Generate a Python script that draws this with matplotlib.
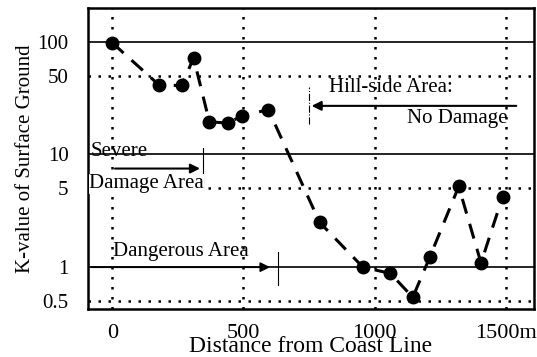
import matplotlib
matplotlib.use("Agg")
import matplotlib.pyplot as plt

# data
dist = [0, 180, 265, 310, 370, 440, 495, 595, 790, 955, 1060, 1145, 1210, 1320, 1405, 1487]
kval = [98, 41, 41, 72, 19.5, 19, 22, 25, 2.5, 1.0, 0.88, 0.54, 1.23, 5.2, 1.09, 4.2]

xticks = [0, 500, 1000, 1500]
xlabels = ["0", "500", "1000", "1500m"]
yticks = [0.5, 1, 5, 10, 50, 100]
ylabels = ["0.5", "1", "5", "10", "50", "100"]
solid_y = [1, 10, 100]
dotted_y = [0.5, 5, 50]

plt.rcParams["font.family"] = ["Liberation Serif", "DejaVu Serif"]

fig = plt.figure(figsize=(5.37, 3.57), dpi=100)
ax = fig.add_axes([0.164, 0.134, 0.830, 0.844])
ax.set_yscale("log")
ax.set_xlim(-92, 1606)
ax.set_ylim(0.424, 200)

dots = (0, (1, 3))
for y in solid_y:
    ax.axhline(y, color="black", lw=1.2, zorder=1)
for y in dotted_y:
    ax.axhline(y, color="black", lw=1.8, ls=dots, zorder=1)
for x in xticks:
    ax.axvline(x, color="black", lw=1.8, ls=dots, zorder=1)

ax.plot(dist, kval, color="black", lw=2.2, ls=(0, (5, 3.5)),
        marker="o", ms=9, zorder=3)

# annotations
fs = 15
ax.text(-84, 10.6, "Severe", fontsize=fs, va="center", ha="left")
ax.annotate("", xy=(345, 7.5), xytext=(0, 7.5),
            arrowprops=dict(arrowstyle="-|>", color="black", lw=1.5, mutation_scale=14))
ax.plot([345, 345], [4.8, 11.5], color="black", lw=0.8)
ax.text(-88, 5.5, "Damage Area", fontsize=fs, va="center", ha="left",
        bbox=dict(facecolor="white", edgecolor="none", pad=0.3))

ax.text(2, 1.38, "Dangerous Area", fontsize=fs, va="center", ha="left")
ax.annotate("", xy=(612, 1), xytext=(-90, 1),
            arrowprops=dict(arrowstyle="-|>", color="black", lw=1.3, mutation_scale=14))
ax.plot([632, 632], [0.69, 1.35], color="black", lw=0.8)

ax.text(825, 39, "Hill-side Area:", fontsize=fs, va="center", ha="left")
ax.annotate("", xy=(749, 27), xytext=(1550, 27),
            arrowprops=dict(arrowstyle="-|>", color="black", lw=1.5, mutation_scale=14))
ax.plot([749, 749], [18.7, 40], color="black", lw=0.8, ls="-.")
ax.text(1505, 21, "No Damage", fontsize=fs, va="center", ha="right")

ax.set_xticks(xticks)
ax.set_xticklabels(xlabels, fontsize=16)
ax.set_yticks(yticks)
ax.set_yticklabels(ylabels, fontsize=15)
ax.minorticks_off()
ax.tick_params(axis="y", length=0, pad=14)
ax.tick_params(axis="x", length=0, pad=11)

ax.set_xlabel("Distance from Coast Line", fontsize=17, labelpad=-5)
ax.set_ylabel("K-value of Surface Ground", fontsize=15, labelpad=2)

for s in ax.spines.values():
    s.set_linewidth(1.8)

fig.savefig("out.png", dpi=100)
